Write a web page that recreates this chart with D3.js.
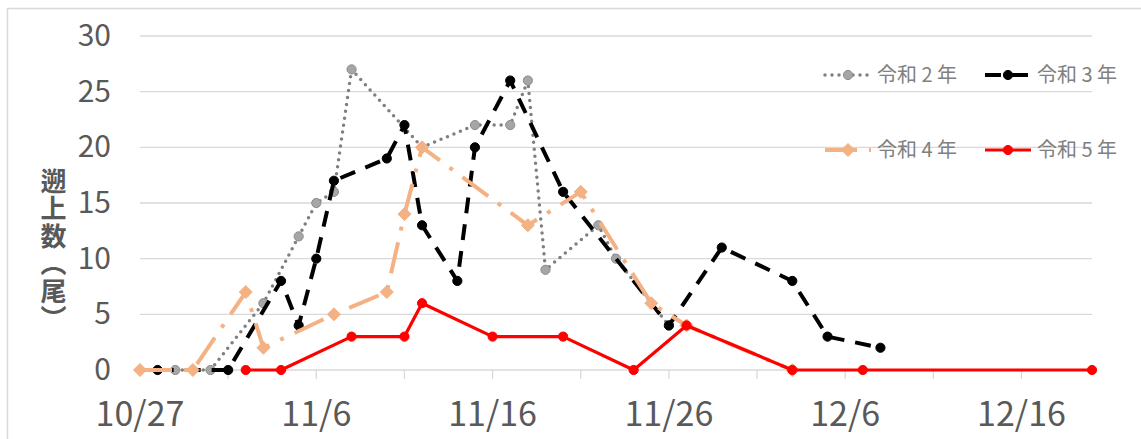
<!DOCTYPE html>
<html lang="ja"><head><meta charset="utf-8">
<script src="https://cdn.jsdelivr.net/npm/d3@7"></script>
<style>
html,body{margin:0;padding:0;background:#fff;}
#wrap{position:relative;width:1141px;height:439px;}
svg{display:block;position:absolute;left:0;top:0;}
#ytitle{position:absolute;writing-mode:vertical-rl;text-orientation:upright;
  font-family:'Noto Sans CJK JP','Noto Sans',sans-serif;font-weight:bold;font-size:26px;
  color:#595959;line-height:1;letter-spacing:1.5px;white-space:nowrap;
  text-spacing-trim:space-all;font-feature-settings:"vert" 1;}
</style></head>
<body>
<div id="wrap"><svg id="chart" width="1141" height="439"></svg></div>
<script>
// ---- data ----
const seriesNames = ["令和 2 年", "令和 3 年", "令和 4 年", "令和 5 年"];
const r2Dates  = ["10/29","10/31","11/3","11/5","11/6","11/7","11/8","11/12","11/15","11/17","11/18","11/19","11/22","11/23","11/26"];
const r2Values = [0,0,6,12,15,16,27,20,22,22,26,9,13,10,4];
const r3Dates  = ["10/28","11/1","11/4","11/5","11/6","11/7","11/10","11/11","11/12","11/14","11/15","11/17","11/20","11/26","11/29","12/3","12/5","12/8"];
const r3Values = [0,0,8,4,10,17,19,22,13,8,20,26,16,4,11,8,3,2];
const r4Dates  = ["10/27","10/30","11/2","11/3","11/7","11/10","11/11","11/12","11/18","11/21","11/25","11/27","12/3"];
const r4Values = [0,0,7,2,5,7,14,20,13,16,6,4,0];
const r5Dates  = ["11/2","11/4","11/8","11/11","11/12","11/16","11/20","11/24","11/27","12/3","12/7","12/20"];
const r5Values = [0,0,3,3,6,3,3,0,4,0,0,0];
const xTickLabels = ["10/27","11/6","11/16","11/26","12/6","12/16"];
const yTickValues = [0,5,10,15,20,25,30];
const xDomain = ["10/27","12/20"];
const yTitle = "遡上数（尾）";

// ---- setup ----
const parse = s => d3.timeParse("%Y/%m/%d")("2023/" + s);
const svg = d3.select("#chart");
const font = "'Noto Sans CJK JP', 'Noto Sans', sans-serif";

const x = d3.scaleTime().domain(xDomain.map(parse)).range([140, 1092]);
const y = d3.scaleLinear().domain([0, 30]).range([370, 36]);

// chart border
svg.append("rect").attr("x", 7.5).attr("y", 8.5).attr("width", 1300).attr("height", 600)
  .attr("fill", "none").attr("stroke", "#d9d9d9").attr("stroke-width", 1.5);

// gridlines
svg.append("g").selectAll("line").data(yTickValues).join("line")
  .attr("x1", x.range()[0]).attr("x2", x.range()[1])
  .attr("y1", d => y(d)).attr("y2", d => y(d))
  .attr("stroke", "#d9d9d9").attr("stroke-width", 1.3);

// y tick labels
svg.append("g").selectAll("text").data(yTickValues).join("text")
  .attr("x", 111).attr("y", d => y(d) + 10)
  .attr("text-anchor", "end")
  .attr("font-family", font).attr("font-size", 30).attr("fill", "#595959")
  .text(d => d);

// x axis ticks every 5 days
const start = parse(xDomain[0]);
const minorTicks = d3.range(5, 51, 5).map(k => d3.timeDay.offset(start, k));
svg.append("g").selectAll("line").data(minorTicks).join("line")
  .attr("x1", d => x(d)).attr("x2", d => x(d))
  .attr("y1", 370).attr("y2", 379)
  .attr("stroke", "#d9d9d9").attr("stroke-width", 1.3);

svg.append("g").selectAll("text").data(xTickLabels).join("text")
  .attr("x", d => x(parse(d))).attr("y", 426)
  .attr("text-anchor", "middle")
  .attr("font-family", font).attr("font-size", 34).attr("fill", "#595959")
  .text(d => d);

// y title (vertical writing mode; brackets take their vertical forms)
d3.select("#wrap").append("div").attr("id", "ytitle")
  .style("left", "40px").style("top", "168px")
  .text(yTitle);

// ---- series ----
const series = [
  { name: seriesNames[0], dates: r2Dates, values: r2Values, color: "#7f7f7f", width: 3.5, dash: "0 7", cap: "round", marker: "circle", mFill: "#a6a6a6", mStroke: "#8c8c8c" },
  { name: seriesNames[1], dates: r3Dates, values: r3Values, color: "#000000", width: 4, dash: "16 11", cap: "butt", marker: "circle", mFill: "#000", mStroke: "#000" },
  { name: seriesNames[2], dates: r4Dates, values: r4Values, color: "#F4B183", width: 4, dash: "32 12 4 12", cap: "butt", marker: "diamond", mFill: "#F4B183", mStroke: "#F4B183" },
  { name: seriesNames[3], dates: r5Dates, values: r5Values, color: "#FF0000", width: 3.2, dash: null, cap: "butt", marker: "circle", mFill: "#FF0000", mStroke: "#FF0000" }
];

const line = d3.line().x(d => x(d.date)).y(d => y(d.value));

function drawMarker(g, cx, cy, s) {
  if (s.marker === "circle") {
    g.append("circle").attr("cx", cx).attr("cy", cy).attr("r", 4.6)
      .attr("fill", s.mFill).attr("stroke", s.mStroke).attr("stroke-width", 1);
  } else {
    const r = 6.5;
    g.append("path")
      .attr("d", `M${cx},${cy - r}L${cx + r},${cy}L${cx},${cy + r}L${cx - r},${cy}Z`)
      .attr("fill", s.mFill).attr("stroke", s.mStroke).attr("stroke-width", 1);
  }
}

series.forEach(s => {
  const pts = s.dates.map((d, i) => ({ date: parse(d), value: s.values[i] }));
  const g = svg.append("g");
  g.append("path").datum(pts).attr("d", line)
    .attr("fill", "none").attr("stroke", s.color).attr("stroke-width", s.width)
    .attr("stroke-dasharray", s.dash).attr("stroke-linecap", s.cap)
    .attr("stroke-linejoin", "round");
  pts.forEach(p => drawMarker(g, x(p.date), y(p.value), s));
});

// ---- legend ----
const legendPos = [[825, 75], [985, 75], [825, 150], [985, 150]];
series.forEach((s, i) => {
  const [lx, ly] = legendPos[i];
  const g = svg.append("g");
  g.append("line").attr("x1", lx).attr("x2", lx + 46).attr("y1", ly).attr("y2", ly)
    .attr("stroke", s.color).attr("stroke-width", s.width)
    .attr("stroke-dasharray", s.dash).attr("stroke-linecap", s.cap);
  drawMarker(g, lx + 23, ly, s);
  g.append("text").attr("x", lx + 52).attr("y", ly + 7)
    .attr("font-family", font).attr("font-size", 20).attr("fill", "#808080")
    .text(s.name);
});
</script>
</body></html>
